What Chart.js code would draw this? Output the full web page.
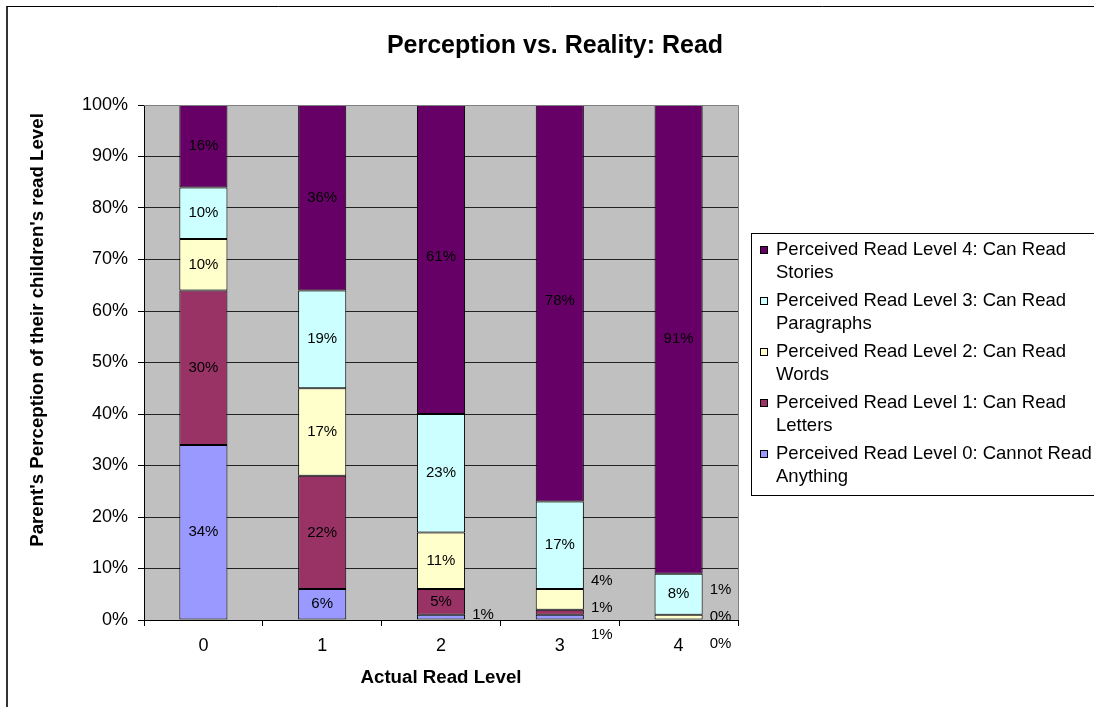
<!DOCTYPE html>
<html lang="en">
<head>
    <meta charset="UTF-8">
    <title>Perception vs. Reality: Read</title>
    <script src="https://cdn.jsdelivr.net/npm/chart.js"></script>
    <style>
        body { margin: 0; background: #fff; }
        #wrap { width: 1094px; height: 707px; position: relative; }
    </style>
</head>
<body>
    <div id="wrap">
        <canvas id="grafico" width="1094" height="707"></canvas>
    </div>

    <script>
        // datos (porcentajes)
        const categorias = ['0', '1', '2', '3', '4'];
        const nivel0 = [34, 6, 1, 1, 0];
        const nivel1 = [30, 22, 5, 1, 0];
        const nivel2 = [10, 17, 11, 4, 1];
        const nivel3 = [10, 19, 23, 17, 8];
        const nivel4 = [16, 36, 61, 78, 91];
        const nombres = [
            'Perceived Read Level 0: Cannot Read Anything',
            'Perceived Read Level 1: Can Read Letters',
            'Perceived Read Level 2: Can Read Words',
            'Perceived Read Level 3: Can Read Paragraphs',
            'Perceived Read Level 4: Can Read Stories'
        ];
        const colores = ['#9999FF', '#993366', '#FFFFCC', '#CCFFFF', '#660066'];
        const series = [nivel0, nivel1, nivel2, nivel3, nivel4];

        const FUENTE = "'Liberation Sans', Arial, sans-serif";

        // fondo gris del area de trazado + borde exterior + titulos
        const fondoPlugin = {
            id: 'fondo',
            beforeDraw(chart) {
                const { ctx, chartArea: a } = chart;
                ctx.save();
                ctx.fillStyle = '#C0C0C0';
                ctx.fillRect(a.left, a.top, a.right - a.left, a.bottom - a.top);
                ctx.restore();
            },
            afterDraw(chart) {
                const { ctx, chartArea: a } = chart;
                ctx.save();
                ctx.strokeStyle = '#808080';
                ctx.lineWidth = 1;
                ctx.beginPath();
                ctx.moveTo(a.left, a.top + 0.5);
                ctx.lineTo(a.right + 0.5, a.top + 0.5);
                ctx.lineTo(a.right + 0.5, a.bottom);
                ctx.stroke();

                // borde del objeto grafico
                ctx.strokeStyle = '#333';
                ctx.lineWidth = 2;
                ctx.beginPath();
                ctx.moveTo(7, 707);
                ctx.lineTo(7, 6);
                ctx.stroke();
                ctx.strokeStyle = '#000';
                ctx.lineWidth = 1;
                ctx.beginPath();
                ctx.moveTo(7, 6.5);
                ctx.lineTo(1094, 6.5);
                ctx.stroke();

                ctx.fillStyle = '#000';
                ctx.font = 'bold 25px ' + FUENTE;
                ctx.textAlign = 'center';
                ctx.textBaseline = 'middle';
                ctx.fillText('Perception vs. Reality: Read', 555, 46);

                // titulo del eje Y (Excel lo centra algo mas arriba)
                ctx.font = 'bold 18.7px ' + FUENTE;
                ctx.translate(38, 330);
                ctx.rotate(-Math.PI / 2);
                ctx.fillText("Parent's Perception of their children's read Level", 0, 0);
                ctx.restore();
            }
        };

        // etiquetas de valor; las pequeñas van a la derecha de la barra
        const etiquetasPlugin = {
            id: 'etiquetas',
            afterDatasetsDraw(chart) {
                const { ctx } = chart;
                ctx.save();
                ctx.font = '15px ' + FUENTE;
                ctx.fillStyle = '#000';
                ctx.textAlign = 'center';
                ctx.textBaseline = 'middle';
                categorias.forEach((c, i) => {
                    const pequenas = [];
                    chart.data.datasets.forEach((ds, d) => {
                        const bar = chart.getDatasetMeta(d).data[i];
                        const v = ds.data[i];
                        const cy = (bar.y + bar.base) / 2;
                        if (v < 5) {
                            pequenas.push({ v, cy, x: bar.x });
                        } else {
                            ctx.fillText(v + '%', bar.x, cy);
                        }
                    });
                    if (pequenas.length) {
                        const media = pequenas.reduce((s, p) => s + p.cy, 0) / pequenas.length - 2;
                        const n = pequenas.length;
                        pequenas.forEach((p, k) => {
                            const y = media + ((n - 1) / 2 - k) * 27;
                            ctx.fillText(p.v + '%', p.x + 42, y);
                        });
                    }
                });
                ctx.restore();
            }
        };

        // leyenda dibujada a mano (texto en dos lineas)
        const leyendaPlugin = {
            id: 'leyenda',
            afterDraw(chart) {
                const { ctx } = chart;
                ctx.save();
                ctx.strokeStyle = '#000';
                ctx.lineWidth = 1;
                ctx.strokeRect(751.5, 233.5, 400, 262);
                ctx.font = '18.5px ' + FUENTE;
                ctx.textBaseline = 'middle';
                ctx.textAlign = 'left';
                const ds = chart.data.datasets.slice().reverse();
                ds.forEach((d, k) => {
                    const y = 250 + k * 51;
                    ctx.fillStyle = d.backgroundColor;
                    ctx.fillRect(760, y - 4, 8, 8);
                    ctx.strokeStyle = '#000';
                    ctx.strokeRect(760.5, y - 3.5, 7, 7);
                    // partir el texto en dos lineas
                    const palabras = d.label.split(' ');
                    let linea1 = '', resto = [];
                    for (let w = 0; w < palabras.length; w++) {
                        const prueba = linea1 ? linea1 + ' ' + palabras[w] : palabras[w];
                        if (resto.length || ctx.measureText(prueba).width > 316) {
                            resto.push(palabras[w]);
                        } else {
                            linea1 = prueba;
                        }
                    }
                    ctx.fillStyle = '#000';
                    ctx.fillText(linea1, 776, y);
                    ctx.fillText(resto.join(' '), 776, y + 23);
                });
                ctx.restore();
            }
        };

        const datasets = series.map((s, k) => ({
            label: nombres[k],
            data: s,
            backgroundColor: colores[k],
            borderColor: '#000',
            borderWidth: c => (c.raw === 0 ? 0 : 1),
            borderSkipped: false,
            barPercentage: 0.405,
            categoryPercentage: 1
        }));

        new Chart(document.getElementById('grafico'), {
            type: 'bar',
            data: { labels: categorias, datasets: datasets },
            plugins: [fondoPlugin, etiquetasPlugin, leyendaPlugin],
            options: {
                responsive: false,
                animation: false,
                layout: { padding: { top: 105, left: 0, right: 356, bottom: 0 } },
                plugins: {
                    legend: { display: false },
                    title: { display: false },
                    tooltip: { enabled: false }
                },
                scales: {
                    x: {
                        stacked: true,
                        afterFit(scale) { scale.height = 87; },
                        grid: {
                            display: true,
                            drawOnChartArea: false,
                            drawTicks: true,
                            tickLength: 6,
                            color: '#000',
                            offset: true
                        },
                        border: { display: true, color: '#000', width: 1 },
                        ticks: {
                            padding: 9,
                            color: '#000',
                            font: { family: FUENTE, size: 18 }
                        },
                        title: {
                            display: true,
                            text: 'Actual Read Level',
                            color: '#000',
                            font: { family: FUENTE, size: 18.7, weight: 'bold' },
                            padding: { top: 0, bottom: 18 }
                        }
                    },
                    y: {
                        stacked: true,
                        min: 0,
                        max: 100,
                        afterFit(scale) { scale.width = 144; },
                        grid: {
                            color: c => (c.tick && c.tick.value === 100 ? '#808080' : '#222'),
                            tickColor: '#000',
                            tickLength: 6
                        },
                        border: { display: true, color: '#000', width: 1 },
                        ticks: {
                            stepSize: 10,
                            padding: 10,
                            color: '#000',
                            font: { family: FUENTE, size: 18 },
                            callback: v => v + '%'
                        },
                        title: { display: false }
                    }
                }
            }
        });
    </script>
</body>
</html>
